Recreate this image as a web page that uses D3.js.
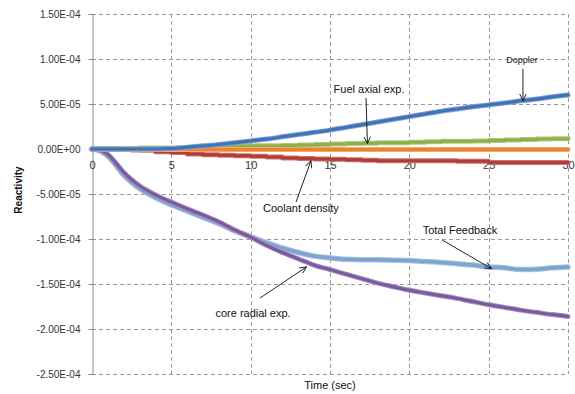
<!DOCTYPE html>
<html><head><meta charset="utf-8">
<script src="https://cdn.jsdelivr.net/npm/d3@7/dist/d3.min.js"></script>
<style>
html,body{margin:0;padding:0;background:#fff;}
svg{display:block;font-family:"Liberation Sans",Arial,sans-serif;}
</style></head>
<body><svg id="c" width="575" height="394"></svg>
<script>
// time (sec)
const time = [0,0.5,1,1.5,2,2.5,3,4,5,6,7,8,9,10,11,12,13,14,15,16,17,18,19,20,21,22,23,24,25,26,27,28,29,30];
// reactivity, in units of 1E-5
const doppler = [0,0,0,0,0,0,0,0,0.05,0.2,0.35,0.5,0.7,0.9,1.1,1.35,1.6,1.85,2.1,2.4,2.7,3.0,3.3,3.6,3.9,4.2,4.45,4.7,4.9,5.1,5.35,5.55,5.8,6.0];
const fuelAxial = [0,0,0,0,0,0.05,0.1,0.1,0.1,0.15,0.2,0.25,0.3,0.35,0.35,0.4,0.45,0.5,0.55,0.6,0.65,0.7,0.7,0.75,0.8,0.85,0.85,0.9,0.95,1.0,1.05,1.1,1.15,1.2];
const other = [0,-0.05,-0.05,-0.05,-0.05,-0.05,-0.05,-0.05,-0.05,-0.05,-0.05,-0.05,-0.05,-0.05,-0.05,-0.05,-0.05,-0.05,-0.05,-0.05,-0.05,-0.05,-0.05,-0.05,-0.05,-0.05,-0.05,-0.05,-0.05,-0.05,-0.05,-0.05,-0.05,-0.05];
const coolant = [0,0,0,0,-0.05,-0.1,-0.15,-0.3,-0.4,-0.55,-0.65,-0.7,-0.75,-0.8,-0.9,-1.0,-1.05,-1.1,-1.15,-1.2,-1.25,-1.3,-1.3,-1.3,-1.3,-1.3,-1.35,-1.35,-1.5,-1.5,-1.5,-1.5,-1.5,-1.5];
const coreRadial = [0,-0.15,-0.6,-1.55,-2.6,-3.4,-4.1,-5.1,-5.9,-6.65,-7.35,-8.1,-9.0,-9.8,-10.7,-11.5,-12.2,-12.9,-13.4,-13.9,-14.4,-14.9,-15.3,-15.7,-16.0,-16.3,-16.6,-16.95,-17.3,-17.6,-17.9,-18.15,-18.4,-18.6];
const totalFeedback = [0,-0.2,-0.8,-1.8,-2.9,-3.7,-4.4,-5.4,-6.2,-6.9,-7.6,-8.3,-9.1,-9.75,-10.4,-11.0,-11.5,-11.9,-12.1,-12.25,-12.3,-12.3,-12.35,-12.4,-12.5,-12.6,-12.75,-12.9,-13.1,-13.2,-13.4,-13.35,-13.2,-13.1];

const xTicks = [0,5,10,15,20,25,30];
const yTicks = [1.5e-4,1.0e-4,5.0e-5,0,-5.0e-5,-1.0e-4,-1.5e-4,-2.0e-4,-2.5e-4];
const yTickLabels = ["1.50E-04","1.00E-04","5.00E-05","0.00E+00","-5.00E-05","-1.00E-04","-1.50E-04","-2.00E-04","-2.50E-04"];

// annotations: label, text anchor point (t, value), arrow start and end (t, value)
const annotations = [
  {text:"Doppler", size:9, at:[27.1,9.6e-5], from:[27.16,8.9e-5], to:[27.16,5.35e-5]},
  {text:"Fuel axial exp.", size:11, at:[17.46,6.2e-5], from:[17.27,5.67e-5], to:[17.36,0.6e-5]},
  {text:"Coolant density", size:11, at:[13.17,-7.05e-5], from:[12.86,-5.89e-5], to:[13.8,-1.3e-5]},
  {text:"Total Feedback", size:11, at:[23.19,-9.45e-5], from:[22.06,-10.1e-5], to:[25.18,-13.3e-5]},
  {text:"core radial exp.", size:11, at:[10.15,-18.7e-5], from:[10.59,-16.56e-5], to:[13.52,-13.1e-5]}
];

const series = [
  {name:"Total Feedback", values:totalFeedback, color:"#7ea4cf", halo:"#a9c4e2", curve:d3.curveMonotoneX, w:4},
  {name:"core radial exp.", values:coreRadial, color:"#7a5a9e", halo:"#a591c0", curve:d3.curveMonotoneX, w:3.5},
  {name:"Coolant density", values:coolant, color:"#b23c38", halo:"#cc7470", curve:d3.curveStepAfter, w:3.5},
  {name:"Fuel axial exp.", values:fuelAxial, color:"#8db04a", halo:"#b0ca80", curve:d3.curveStepAfter, w:3.5},
  {name:"Other", values:other, color:"#ea8430", halo:"#f2aa6c", curve:d3.curveLinear, w:3.5},
  {name:"Doppler", values:doppler, color:"#3f72b6", halo:"#7b9fd0", curve:d3.curveMonotoneX, w:3.5}
];

const svg = d3.select("#c");
const x = d3.scaleLinear().domain([0,30]).range([92,568]);
const y = d3.scaleLinear().domain([-2.5e-4,1.5e-4]).range([374,14]);

const defs = svg.append("defs");
defs.append("marker").attr("id","arr").attr("viewBox","0 0 10 10")
  .attr("refX",9.5).attr("refY",5).attr("markerWidth",8).attr("markerHeight",8)
  .attr("markerUnits","userSpaceOnUse").attr("orient","auto")
  .append("path").attr("d","M1,1 L9.5,5 L1,9").attr("fill","none").attr("stroke","#222").attr("stroke-width",1.2);

// grid
const grid = svg.append("g");
grid.selectAll(".hg").data(yTicks).join("line")
  .attr("x1",x(0)).attr("x2",x(30)).attr("y1",d=>Math.round(y(d))+0.5).attr("y2",d=>Math.round(y(d))+0.5)
  .attr("stroke","#9a9a9a").attr("stroke-dasharray","4,3").attr("stroke-width",1);
grid.selectAll(".vg").data(xTicks.filter(d=>d>0)).join("line")
  .attr("x1",d=>Math.round(x(d))+0.5).attr("x2",d=>Math.round(x(d))+0.5).attr("y1",y(1.5e-4)).attr("y2",y(-2.5e-4))
  .attr("stroke","#9a9a9a").attr("stroke-dasharray","4,3").attr("stroke-width",1);

// y axis
const yAxis = d3.axisLeft(y).tickValues(yTicks).tickSize(4).tickPadding(8)
  .tickFormat((d,i)=>yTickLabels[i]);
const gy = svg.append("g").attr("transform",`translate(${Math.round(x(0))+0.5},0)`).call(yAxis);
gy.select(".domain").attr("stroke","#8a8a8a");
gy.selectAll(".tick line").attr("stroke","#8a8a8a");
gy.selectAll(".tick text").attr("font-size",10).attr("fill","#333").attr("font-family","'Liberation Sans',Arial,sans-serif");

// x axis at zero
const xAxis = d3.axisBottom(x).tickValues(xTicks).tickSize(0).tickPadding(12).tickFormat(d3.format("d"));
const gx = svg.append("g").attr("transform",`translate(0,${Math.round(y(0))+0.5})`).call(xAxis);
gx.select(".domain").attr("stroke","#8a8a8a");
gx.selectAll(".tick text").attr("font-size",11).attr("fill","#333").attr("font-family","'Liberation Sans',Arial,sans-serif");

// series
const lg = svg.append("g");
series.forEach(s=>{
  const line = d3.line().x((d,i)=>x(time[i])).y(d=>y(d*1e-5)).curve(s.curve);
  lg.append("path").datum(s.values).attr("d",line).attr("fill","none")
    .attr("stroke",s.halo).attr("stroke-width",s.w+1.5).attr("stroke-linejoin","round").attr("stroke-linecap","round");
  lg.append("path").datum(s.values).attr("d",line).attr("fill","none")
    .attr("stroke",s.color).attr("stroke-width",s.w-0.5).attr("stroke-linejoin","round").attr("stroke-linecap","round");
});

// annotations
const ag = svg.append("g");
annotations.forEach(a=>{
  ag.append("line").attr("x1",x(a.from[0])).attr("y1",y(a.from[1])).attr("x2",x(a.to[0])).attr("y2",y(a.to[1]))
    .attr("stroke","#222").attr("stroke-width",1).attr("marker-end","url(#arr)");
  ag.append("text").attr("x",x(a.at[0])).attr("y",y(a.at[1])).attr("text-anchor","middle")
    .attr("font-size",a.size).attr("fill","#111").text(a.text);
});

// axis titles
svg.append("text").attr("transform",`translate(22,190) rotate(-90)`).attr("text-anchor","middle")
  .attr("font-size",10).attr("font-weight","bold").attr("fill","#111").text("Reactivity");
svg.append("text").attr("x",330).attr("y",389).attr("text-anchor","middle")
  .attr("font-size",11).attr("fill","#111").text("Time (sec)");
</script></body></html>
